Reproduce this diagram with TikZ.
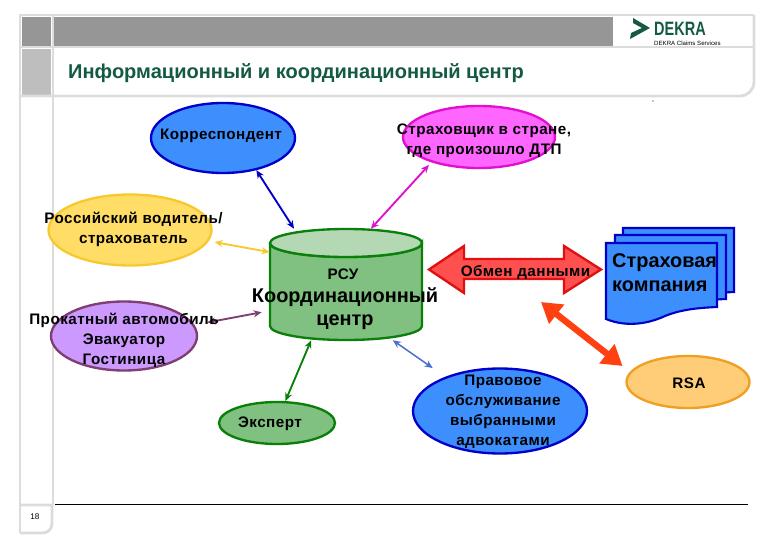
\documentclass[tikz,border=0pt]{standalone}
\usepackage{xcolor}
\usepackage{fontspec}
\setmainfont{Liberation Sans}
\newfontfamily\sparsefont[LetterSpace=3.0]{Liberation Sans}
\usetikzlibrary{arrows.meta, shapes.geometric}

\definecolor{framegray}{HTML}{DCDCDC}
\definecolor{bandgray}{HTML}{969696}
\definecolor{cellgray}{HTML}{BEBEBE}
\definecolor{dekragreen}{HTML}{145A41}
\definecolor{cylgreen}{HTML}{80C080}
\definecolor{cyltop}{HTML}{B4D8B4}
\definecolor{cylline}{HTML}{0A800A}
\definecolor{blueoval}{HTML}{3D8FFD}
\definecolor{blueline}{HTML}{0000C8}
\definecolor{pinkoval}{HTML}{FF66FF}
\definecolor{pinkline}{HTML}{E010D0}
\definecolor{yellowoval}{HTML}{FFDD66}
\definecolor{yellowline}{HTML}{F8C830}
\definecolor{lilacoval}{HTML}{CC99FF}
\definecolor{lilacline}{HTML}{7F3F70}
\definecolor{orangeoval}{HTML}{FFCC77}
\definecolor{orangeline}{HTML}{F0A020}
\definecolor{redfill}{HTML}{FF5050}
\definecolor{redline}{HTML}{E01010}
\definecolor{redarrow}{HTML}{FF4010}
\definecolor{linkblue}{HTML}{4A70D0}

\tikzset{
  frameline/.style={framegray, line width=2.4pt},
  oval/.style={ellipse, draw, line width=2pt, inner sep=0pt},
  lbl/.style={font=\sparsefont\bfseries\fontsize{13}{15}\selectfont, align=center, inner sep=0pt},
  biglbl/.style={font=\bfseries\fontsize{17}{20}\selectfont, inner sep=0pt},
  link/.style={<->, line width=1.6pt},
  sheet/.style={draw=blueline, fill=blueoval, line width=1.8pt}
}

\begin{document}
\begin{tikzpicture}[>={Stealth[length=7pt, width=6pt]}, x=0.03cm, y=-0.03cm]

\useasboundingbox (0,0) rectangle (780,540);

%-- header bands
\fill[bandgray] (22,17) rectangle (51,46);
\fill[bandgray] (54,17) rectangle (613,46);
\fill[cellgray] (22,49) rectangle (51,95);

%-- frame
\draw[frameline, rounded corners=12pt] (20,96) -- (754,96) -- (754,15);
\draw[frameline] (754,15) -- (20,15) -- (20,533);
\draw[frameline] (20,533) [rounded corners=8pt] -- (52,533) [sharp corners] -- (52,505) -- (20,505);
\draw[frameline] (20,47) -- (754,47);
\draw[frameline] (20,96) -- (54,96);
\draw[frameline] (53,15) -- (53,505);
\draw[black, line width=0.7pt] (55,504) -- (748,504);
\fill (653,101) circle (0.6);

\node[font=\bfseries\fontsize{17.1}{19}\selectfont, text=dekragreen, anchor=west, inner sep=0pt] (title) at (68,73)
  {Информационный и координационный центр};
\node[font=\fontsize{7}{8}\selectfont, inner sep=0pt] (pagenum) at (35,517) {18};

%-- logo
\fill[dekragreen] (633,18) -- (650,28) -- (630,39) -- (631,33) -- (642,28) -- (633,23) -- cycle;
\node[font=\bfseries\fontsize{16.5}{18}\selectfont, text=dekragreen, anchor=west, inner sep=0pt] (dekra) at (654,29)
  {\scalebox{0.75}[1]{DEKRA}};
\node[font=\fontsize{5.2}{6}\selectfont, anchor=west, inner sep=0pt] (claims) at (654,43) {DEKRA Claims Services};

%-- cylinder
\node[minimum width=4.56cm, minimum height=3.33cm, inner sep=0pt] (rsu) at (346,284.5) {};
\draw[draw=cylline, fill=cylgreen, line width=2pt] (270,243) -- (270,326)
  arc[start angle=180, end angle=0, x radius=76, y radius=14] -- (422,243)
  arc[start angle=0, end angle=180, x radius=76, y radius=14];
\draw[draw=cylline, fill=cyltop, line width=2pt] (346,243) ellipse [x radius=76, y radius=14];

%-- ovals
\node[oval, draw=blueline, fill=blueoval, minimum width=4.32cm, minimum height=2.1cm]   (korr) at (223,138) {};
\node[oval, draw=pinkline, fill=pinkoval, minimum width=4.56cm, minimum height=1.86cm]  (stra) at (479,137) {};
\node[oval, draw=yellowline, fill=yellowoval, minimum width=4.89cm, minimum height=2.13cm] (ross) at (130,230) {};
\node[oval, draw=lilacline, fill=lilacoval, minimum width=4.38cm, minimum height=2.07cm]  (prok) at (124,336) {};
\node[oval, draw=cylline, fill=cylgreen, minimum width=3.48cm, minimum height=1.26cm]   (eksp) at (277,423) {};
\node[oval, draw=blueline, fill=blueoval, minimum width=5.22cm, minimum height=2.55cm]  (prav) at (500,411) {};
\node[oval, draw=orangeline, fill=orangeoval, minimum width=3.69cm, minimum height=1.56cm] (rsa) at (688,382) {};

%-- links
\draw[link, blueline]   (korr.-44) -- (rsu.133.7);
\draw[link, pinkline, shorten <=3pt] (stra.208) -- (rsu.66);
\draw[link, yellowline, shorten <=5pt] (ross.-8) -- (rsu.157.5);
\draw[link, lilacline, shorten <=11pt, shorten >=7pt] (prok.9) -- (rsu.199);
\draw[link, cylline]    (rsu.-122) -- (eksp.69);
\draw[link, linkblue, line width=1.3pt, shorten >=13pt] (rsu.-50) -- (prav.148);

%-- data exchange
\draw[draw=redline, fill=redfill, line width=2pt]
  (429,269.5) -- (464,246) -- (464,259) -- (564,259) -- (564,246) -- (601,269.5)
  -- (564,293) -- (564,279) -- (464,279) -- (464,293) -- cycle;

%-- insurer sheets
\foreach \dx/\dy in {17/-15, 9/-8, 0/0}
  \draw[sheet, shift={(\dx,\dy)}] (606,243) -- (717,243) -- (717,307)
    .. controls (695,308) and (680,310) .. (665,316)
    .. controls (650,323) and (628,328) .. (606,319) -- cycle;

\coordinate (rsaend) at (541,302);
\draw[<->, >={Triangle[length=17pt, width=20pt]}, redarrow, line width=5.5pt, shorten >=8pt] (rsaend) -- (rsa.170);

%-- labels
\node[lbl] (korrtxt) at (221,136) {Корреспондент};
\node[lbl] (stratxt) at (484,140.5) {Страховщик в стране,\\[2pt]где произошло ДТП};
\node[lbl] (rosstxt) at (133.5,229) {Российский водитель/\\[2pt]страхователь};
\node[lbl] (proktxt) at (124,340) {Прокатный автомобиль\\[2pt]Эвакуатор\\[2pt]Гостиница};
\node[lbl] (eksptxt) at (270,424) {Эксперт};
\node[lbl] (pravtxt) at (503,412) {Правовое\\[2pt]обслуживание\\[2pt]выбранными\\[2pt]адвокатами};
\node[lbl] (rsatxt)  at (689,383) {RSA};
\node[lbl] (rsutxt)  at (343,274) {РСУ};
\node[biglbl] (koordtxt) at (345,297) {Координационный};
\node[biglbl] (centtxt)  at (345,322) {центр};
\node[lbl] (obmentxt) at (525.5,272) {Обмен данными};
\node[biglbl, align=left, anchor=west] (companytxt) at (612,272.5) {Страховая\\[1pt]компания};

\end{tikzpicture}
\end{document}
